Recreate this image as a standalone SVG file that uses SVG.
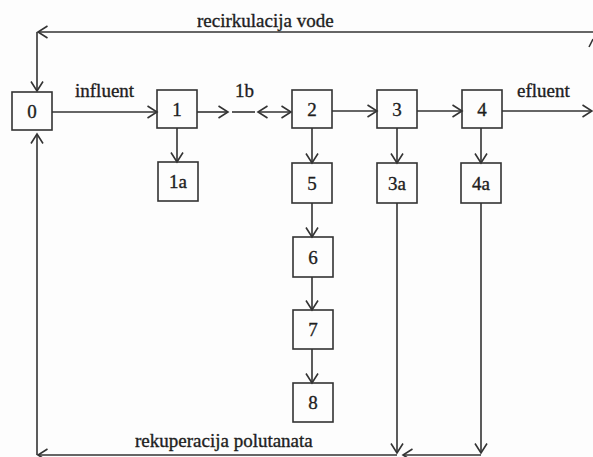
<svg xmlns="http://www.w3.org/2000/svg" width="593" height="457" viewBox="0 0 593 457">
<defs>
<marker id="ah" markerUnits="userSpaceOnUse" markerWidth="14" markerHeight="14" refX="11" refY="7" orient="auto-start-reverse" overflow="visible">
<path d="M1.5,1 L11,7 L1.5,13" fill="none" stroke="#333" stroke-width="1.6"/>
</marker>
<style>
.box{fill:none;stroke:#333;stroke-width:1.6}
.c{fill:none;stroke:#333;stroke-width:1.6}
.a{marker-end:url(#ah)}
.n{text-anchor:middle}
</style>
</defs>
<rect width="593" height="457" fill="#fdfdfd"/>
<g id="connectors">
<path class="c a" d="M593,32 H38"/>
<path class="c a" d="M37,32 V91"/>
<path class="c" d="M589,47 L593,39"/>
<path class="c a" d="M52,112 H157"/>
<path class="c a" d="M197,112 H228"/>
<path class="c" d="M232,112 H255"/>
<path class="c a" d="M258,112 H291" marker-start="url(#ah)"/>
<path class="c a" d="M177,128 V162"/>
<path class="c a" d="M332,111 H377"/>
<path class="c a" d="M417,111 H462"/>
<path class="c a" d="M502,111 H592"/>
<path class="c a" d="M312,128 V163"/>
<path class="c a" d="M312,203 V237"/>
<path class="c a" d="M312,277 V310"/>
<path class="c a" d="M312,349 V383"/>
<path class="c a" d="M397,128 V163"/>
<path class="c a" d="M481,128 V163"/>
<path class="c a" d="M397,203 V453"/>
<path class="c a" d="M481,203 V453"/>
<path class="c a" d="M481,455 H403"/>
<path class="c a" d="M397,455 H38"/>
<path class="c a" d="M37,455 V134"/>
</g>
<g font-family="Liberation Serif, Times New Roman, DejaVu Serif, serif" font-size="19" fill="#1e1e1e" stroke="#1e1e1e" stroke-width="0.35">
<g id="labels">
<text x="197" y="27">recirkulacija vode</text>
<text x="75" y="97">influent</text>
<text x="235" y="97">1b</text>
<text x="517" y="97">efluent</text>
<text x="135" y="447">rekuperacija polutanata</text>
</g>
<g id="n0"><rect class="box" x="12" y="92" width="40" height="38"/><text class="n" x="32" y="118">0</text></g>
<g id="n1"><rect class="box" x="157" y="90" width="40" height="38"/><text class="n" x="177" y="116">1</text></g>
<g id="n1a"><rect class="box" x="158" y="162" width="40" height="39"/><text class="n" x="178" y="188">1a</text></g>
<g id="n2"><rect class="box" x="292" y="90" width="40" height="38"/><text class="n" x="312" y="116">2</text></g>
<g id="n3"><rect class="box" x="377" y="90" width="40" height="38"/><text class="n" x="397" y="116">3</text></g>
<g id="n4"><rect class="box" x="462" y="90" width="40" height="38"/><text class="n" x="482" y="116">4</text></g>
<g id="n5"><rect class="box" x="292" y="163" width="40" height="40"/><text class="n" x="312" y="190">5</text></g>
<g id="n3a"><rect class="box" x="377" y="163" width="40" height="40"/><text class="n" x="397" y="190">3a</text></g>
<g id="n4a"><rect class="box" x="461" y="163" width="40" height="40"/><text class="n" x="481" y="190">4a</text></g>
<g id="n6"><rect class="box" x="293" y="237" width="40" height="40"/><text class="n" x="313" y="264">6</text></g>
<g id="n7"><rect class="box" x="293" y="310" width="40" height="39"/><text class="n" x="313" y="336">7</text></g>
<g id="n8"><rect class="box" x="293" y="383" width="40" height="39"/><text class="n" x="313" y="409">8</text></g>
</g>
</svg>
